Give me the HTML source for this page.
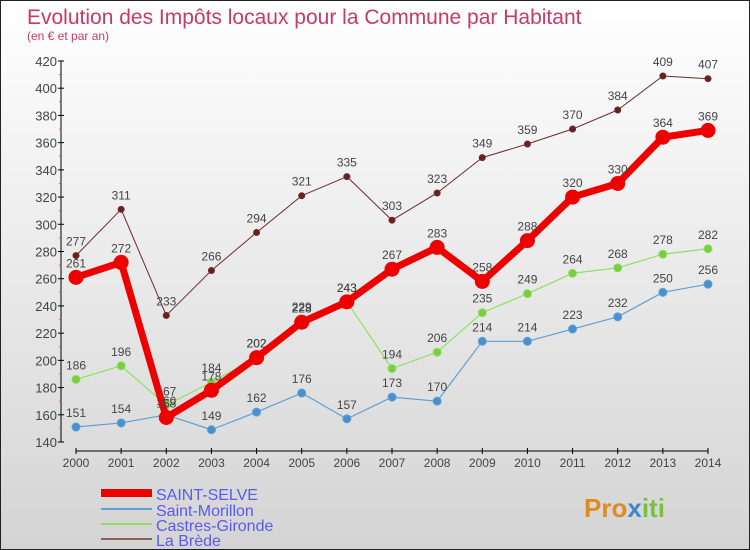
<!DOCTYPE html>
<html><head><meta charset="utf-8"><style>
body{margin:0}
#c{width:750px;height:550px;position:relative;box-sizing:border-box;border:1px solid #222;background:linear-gradient(#ffffff,#d4d4d4);font-family:"Liberation Sans",sans-serif;overflow:hidden}
</style></head><body>
<div id="c">
<svg id="s" width="750" height="550" xmlns="http://www.w3.org/2000/svg">
<text x="26" y="23" font-size="21" fill="#c8386a">Evolution des Impôts locaux pour la Commune par Habitant</text>
<text x="26" y="39" font-size="12" fill="#c8386a">(en € et par an)</text>
<g id="axes"></g>
<g id="series"></g>
<g>
<line x1="100" y1="492" x2="151" y2="492" stroke="#e00" stroke-width="8"/>
<text x="155" y="499" font-size="16" fill="#5a5aee">SAINT-SELVE</text>
<line x1="100" y1="508" x2="151" y2="508" stroke="#5fa0d0" stroke-width="2"/>
<text x="155" y="515" font-size="16" fill="#5a5aee">Saint-Morillon</text>
<line x1="100" y1="523" x2="151" y2="523" stroke="#90e060" stroke-width="2"/>
<text x="155" y="530" font-size="16" fill="#5a5aee">Castres-Gironde</text>
<line x1="100" y1="538" x2="151" y2="538" stroke="#906060" stroke-width="2"/>
<text x="155" y="545" font-size="16" fill="#5a5aee">La Brède</text>
</g>
<text x="583" y="516" font-size="26" font-weight="bold" fill="#e08a20">Pro<tspan fill="#3a8ad0">x</tspan><tspan fill="#7ac040">iti</tspan></text>
</svg>
</div>
<script>
const years=[2000,2001,2002,2003,2004,2005,2006,2007,2008,2009,2010,2011,2012,2013,2014];
const yTicks=[140,160,180,200,220,240,260,280,300,320,340,360,380,400,420];
const saintSelve=[261,272,158,178,202,228,243,267,283,258,288,320,330,364,369];
const saintMorillon=[151,154,160,149,162,176,157,173,170,214,214,223,232,250,256];
const castresGironde=[186,196,167,184,202,229,243,194,206,235,249,264,268,278,282];
const laBrede=[277,311,233,266,294,321,335,303,323,349,359,370,384,409,407];
const NS="http://www.w3.org/2000/svg";
const xS=y=>75+(y-2000)*(707-75)/14;
const yS=v=>441-(v-140)*(441-60)/280;
function mk(t,a,p){const e=document.createElementNS(NS,t);for(const k in a)e.setAttribute(k,a[k]);p.appendChild(e);return e;}
const ax=document.getElementById('axes');
const yl=mk('line',{x1:60,y1:60,x2:60,y2:441,stroke:'#000'},ax);


const xl=mk('line',{x1:75,y1:450,x2:707,y2:450,stroke:'#000'},ax);


yTicks.forEach((v,i)=>{
  mk('line',{x1:57,y1:yS(v),x2:63,y2:yS(v),stroke:'#000'},ax);
  if(i<yTicks.length-1)mk('line',{x1:58,y1:yS(v+10),x2:61,y2:yS(v+10),stroke:'#f44'},ax);
  const t=mk('text',{x:56,y:yS(v)+5,'font-size':13,fill:'#444','text-anchor':'end'},ax);
  t.textContent=v;
  
  
});
years.forEach(y=>{
  mk('line',{x1:xS(y),y1:447,x2:xS(y),y2:453,stroke:'#000'},ax);
  const t=mk('text',{x:xS(y),y:466,'font-size':12,fill:'#444','text-anchor':'middle'},ax);
  t.textContent=y;
  
  
});
const sg=document.getElementById('series');
function draw(vals,name,color,w,r,fill){
  const g=mk('g',{},sg);
  
  
  mk('polyline',{points:vals.map((v,i)=>xS(years[i])+','+yS(v)).join(' '),fill:'none',stroke:color,'stroke-width':w,'stroke-linejoin':'round'},g);
  vals.forEach((v,i)=>{
    const c=mk('circle',{cx:xS(years[i]),cy:yS(v),r:r,fill:fill,stroke:color,'stroke-width':1},g);
    
    
    const t=mk('text',{x:xS(years[i]),y:yS(v)-10,'font-size':12,fill:'#444','text-anchor':'middle'},g);
    t.textContent=v;
    
    
  });
}
draw(laBrede,'la-brede','#6a2a2a',1,3,'#6a2020');
draw(saintMorillon,'saint-morillon','#5fa0d0',1.2,4,'#4a90d0');
draw(castresGironde,'castres-gironde','#90e060',1.2,4,'#7acc40');
draw(saintSelve,'saint-selve','#ee0000',7,7,'#ee0000');
</script>
</body></html>
